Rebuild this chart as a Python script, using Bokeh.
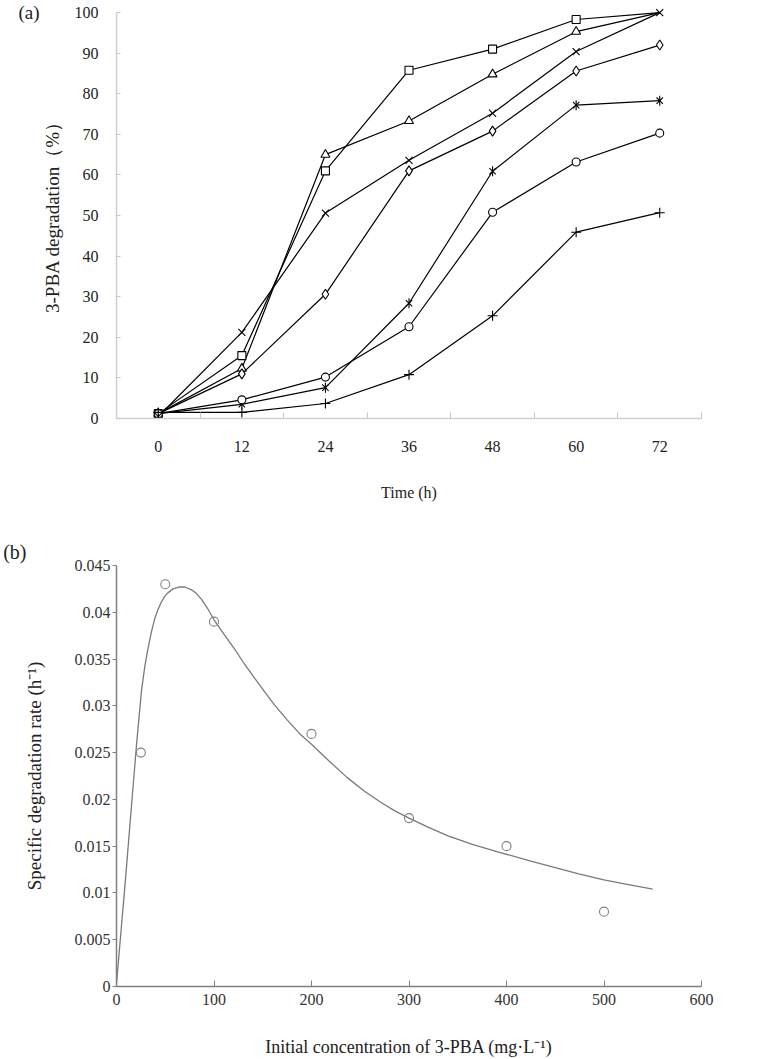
import numpy as np
from bokeh.plotting import figure
from bokeh.models import Range1d, FixedTicker, LinearAxis, CustomJSTickFormatter
from bokeh.layouts import column
from bokeh.embed import file_html
from bokeh.resources import INLINE

# ---------------- data: panel (a) ----------------
hours = [0, 12, 24, 36, 48, 60, 72]
deg_square = [1.2, 15.5, 61.0, 85.8, 91.0, 98.3, 100.0]
deg_triangle = [1.2, 12.3, 65.0, 73.3, 84.8, 95.3, 100.0]
deg_x = [0.5, 21.2, 50.6, 63.6, 75.2, 90.4, 100.0]
deg_diamond = [1.2, 11.0, 30.6, 61.0, 70.8, 85.6, 92.0]
deg_star = [1.2, 3.5, 7.6, 28.4, 60.9, 77.2, 78.3]
deg_circle = [1.2, 4.6, 10.2, 22.6, 50.8, 63.2, 70.3]
deg_plus = [1.5, 1.5, 3.7, 10.8, 25.3, 45.9, 50.7]
y_ticks_a = [0, 10, 20, 30, 40, 50, 60, 70, 80, 90, 100]

# ---------------- data: panel (b) ----------------
conc = [25, 50, 100, 200, 300, 400, 500]
rate = [0.025, 0.043, 0.039, 0.027, 0.018, 0.015, 0.008]
curve_s = [0, 8.5, 16, 20.5, 25.6, 29, 32.4, 35.8, 39.2, 42.6, 46, 49.5, 53, 58, 64,
           70, 77, 82, 87, 93.5, 100, 110, 121, 131, 142, 152, 162, 175, 189, 200,
           218, 237, 254, 271, 285, 300, 320, 340, 365, 391, 425, 450, 475, 500,
           525, 550]
curve_v = [0.0003, 0.0106, 0.0201, 0.0258, 0.0316, 0.0342, 0.0362, 0.0379, 0.0393,
           0.0403, 0.0411, 0.0417, 0.0421, 0.0425, 0.0427, 0.0427, 0.0424, 0.0420,
           0.0414, 0.0404, 0.0392, 0.0377, 0.0361, 0.0345, 0.0329, 0.0315, 0.0301,
           0.0285, 0.0269, 0.0259, 0.0241, 0.0223, 0.0209, 0.0197, 0.0188, 0.0180,
           0.0170, 0.0161, 0.0152, 0.0144, 0.0134, 0.0127, 0.0120, 0.0114, 0.0109,
           0.0104]
x_ticks_b = [0, 100, 200, 300, 400, 500, 600]
y_ticks_b = [0, 0.005, 0.01, 0.015, 0.02, 0.025, 0.03, 0.035, 0.04, 0.045]

FONT = "Liberation Serif"


def panel_tag(p, tick, js_text, standoff, size):
    ax = LinearAxis(ticker=FixedTicker(ticks=[tick], minor_ticks=[]),
                    formatter=CustomJSTickFormatter(code="return " + js_text + ";"))
    ax.axis_line_color = None
    ax.major_tick_line_color = None
    ax.minor_tick_line_color = None
    ax.major_tick_in = 0
    ax.major_tick_out = 0
    ax.minor_tick_in = 0
    ax.minor_tick_out = 0
    ax.major_label_standoff = standoff
    ax.major_label_text_font = FONT
    ax.major_label_text_font_size = size
    ax.major_label_text_color = "#222222"
    p.add_layout(ax, "left")


# ================= panel (a) =================
pa = figure(width=760, height=510, output_backend="svg", toolbar_location=None,
            x_range=Range1d(-6, 78), y_range=Range1d(0, 101.5),
            min_border_left=112, min_border_right=4, min_border_top=6,
            min_border_bottom=92)
pa.outline_line_color = None
pa.grid.visible = False
pa.background_fill_color = "white"

for ys in [deg_square, deg_triangle, deg_x, deg_diamond, deg_star, deg_circle, deg_plus]:
    pa.line(hours, ys, line_color="black", line_width=1.2)

mk = dict(line_color="black", fill_color="white", line_width=1.1)
sq_h = [h for h, v in zip(hours, deg_square) if v < 100]
sq_v = [v for v in deg_square if v < 100]
tr_h = [h for h, v in zip(hours, deg_triangle) if v < 100]
tr_v = [v for v in deg_triangle if v < 100]
pa.scatter(sq_h, sq_v, marker="square", size=8, **mk)
pa.scatter(tr_h, tr_v, marker="triangle", size=9, **mk)
pa.scatter(hours, deg_diamond, marker="diamond", size=10, **mk)
pa.scatter(hours, deg_star, marker="x", size=9, **mk)
pa.scatter(hours, deg_star, marker="dash", size=10, angle=np.pi / 2, **mk)
pa.scatter(hours, deg_circle, marker="circle", size=8, **mk)
pa.scatter(hours, deg_plus, marker="cross", size=10, **mk)
pa.scatter(hours, deg_x, marker="x", size=10, **mk)

xa = pa.xaxis[0]
xa.ticker = FixedTicker(ticks=hours, minor_ticks=[h - 6 for h in hours] + [78])
xa.major_tick_line_color = None
xa.major_tick_in = 0
xa.major_tick_out = 0
xa.minor_tick_line_color = "#c8c8c8"
xa.minor_tick_in = 6
xa.minor_tick_out = 0
xa.axis_line_color = "#d0d0d0"
xa.axis_line_width = 1.5
xa.major_label_text_font = FONT
xa.major_label_text_font_size = "16px"
xa.major_label_text_color = "#222222"
xa.major_label_standoff = 22
xa.axis_label = "Time (h)"
xa.axis_label_text_font = FONT
xa.axis_label_text_font_style = "normal"
xa.axis_label_text_font_size = "16px"
xa.axis_label_text_color = "#222222"
xa.axis_label_standoff = 29

ya = pa.yaxis[0]
ya.ticker = FixedTicker(ticks=y_ticks_a, minor_ticks=[])
ya.bounds = (0, 100)
ya.axis_line_color = "#d0d0d0"
ya.axis_line_width = 1.5
ya.major_tick_line_color = "#c8c8c8"
ya.major_tick_in = 4
ya.major_tick_out = 0
ya.minor_tick_line_color = None
ya.major_label_text_font = FONT
ya.major_label_text_font_size = "16px"
ya.major_label_text_color = "#222222"
ya.major_label_standoff = 18
ya.axis_label = "3-PBA degradation\uff08%\uff09"
ya.axis_label_text_font = FONT
ya.axis_label_text_font_style = "normal"
ya.axis_label_text_font_size = "19px"
ya.axis_label_text_color = "#222222"
ya.axis_label_standoff = 9

panel_tag(pa, 100, "'(a)'", -1, "19px")

# ================= panel (b) =================
pb = figure(width=760, height=549, output_backend="svg", toolbar_location=None,
            x_range=Range1d(0, 600), y_range=Range1d(0, 0.045),
            min_border_left=115, min_border_right=59, min_border_top=55,
            min_border_bottom=70)
pb.outline_line_color = None
pb.grid.visible = False
pb.background_fill_color = "white"

pb.line(curve_s, curve_v, line_color="#7a7a7a", line_width=1.3)
pb.scatter(conc, rate, marker="circle", size=9, fill_color=None,
           line_color="#808080", line_width=1.1)

xb = pb.xaxis[0]
xb.ticker = FixedTicker(ticks=x_ticks_b, minor_ticks=[])
xb.axis_line_color = "#808080"
xb.axis_line_width = 1.5
xb.major_tick_line_color = "#808080"
xb.major_tick_in = 6
xb.major_tick_out = 0
xb.minor_tick_line_color = None
xb.major_label_text_font = FONT
xb.major_label_text_font_size = "16px"
xb.major_label_text_color = "#333333"
xb.major_label_standoff = 7
xb.axis_label = "Initial concentration of 3-PBA (mg\u00b7L\u207b\u00b9)"
xb.axis_label_text_font = FONT
xb.axis_label_text_font_style = "normal"
xb.axis_label_text_font_size = "18px"
xb.axis_label_text_color = "#222222"
xb.axis_label_standoff = 29

yb = pb.yaxis[0]
yb.ticker = FixedTicker(ticks=y_ticks_b, minor_ticks=[])
yb.formatter = CustomJSTickFormatter(code="return String(Number(tick.toFixed(3)));")
yb.axis_line_color = "#808080"
yb.axis_line_width = 1.5
yb.major_tick_line_color = "#808080"
yb.major_tick_in = 0
yb.major_tick_out = 4
yb.minor_tick_line_color = None
yb.major_label_text_font = FONT
yb.major_label_text_font_size = "16px"
yb.major_label_text_color = "#333333"
yb.major_label_standoff = 2
yb.axis_label = "Specific degradation rate (h\u207b\u00b9)"
yb.axis_label_text_font = FONT
yb.axis_label_text_font_style = "normal"
yb.axis_label_text_font_size = "19px"
yb.axis_label_text_color = "#222222"
yb.axis_label_standoff = 27

panel_tag(pb, 0.045, "'(b)\\n\\u00a0'", -6, "20px")

layout = column(pa, pb, spacing=0)
open("out.html", "w").write(file_html(layout, INLINE))
